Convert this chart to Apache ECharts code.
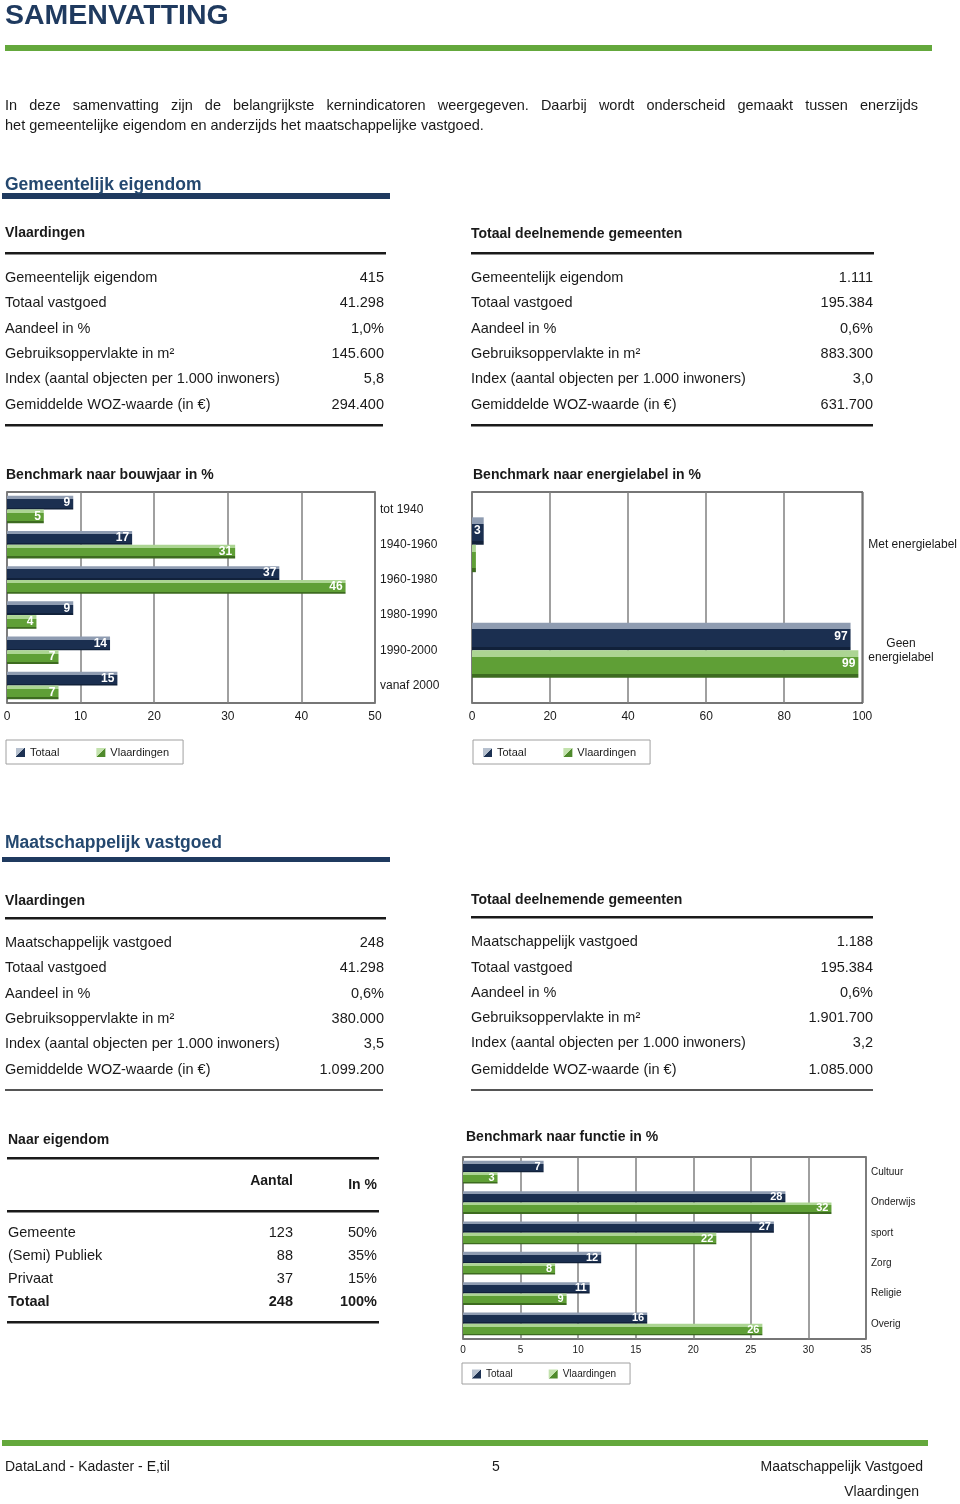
<!DOCTYPE html>
<html><head><meta charset="utf-8">
<script src="https://cdn.jsdelivr.net/npm/echarts@6/dist/echarts.min.js"></script>
<style>html,body{margin:0;padding:0;background:#fff}#c{width:960px;height:1504px}</style>
</head><body><div id="c"></div>
<script>
// ---------- DATA ----------
const pageTitle = 'SAMENVATTING';
const introLine1 = 'In deze samenvatting zijn de belangrijkste kernindicatoren weergegeven. Daarbij wordt onderscheid gemaakt tussen enerzijds';
const introLine2 = 'het gemeentelijke eigendom en anderzijds het maatschappelijke vastgoed.';

const geLabels = ['Gemeentelijk eigendom','Totaal vastgoed','Aandeel in %','Gebruiksoppervlakte in m²','Index (aantal objecten per 1.000 inwoners)','Gemiddelde WOZ-waarde (in €)'];
const geVlaardingen = ['415','41.298','1,0%','145.600','5,8','294.400'];
const geTotaal = ['1.111','195.384','0,6%','883.300','3,0','631.700'];

const mvLabels = ['Maatschappelijk vastgoed','Totaal vastgoed','Aandeel in %','Gebruiksoppervlakte in m²','Index (aantal objecten per 1.000 inwoners)','Gemiddelde WOZ-waarde (in €)'];
const mvVlaardingen = ['248','41.298','0,6%','380.000','3,5','1.099.200'];
const mvTotaal = ['1.188','195.384','0,6%','1.901.700','3,2','1.085.000'];

const eigendomCats = ['Gemeente','(Semi) Publiek','Privaat','Totaal'];
const eigendomAantal = ['123','88','37','248'];
const eigendomPct = ['50%','35%','15%','100%'];

const bouwjaarCats = ['tot 1940','1940-1960','1960-1980','1980-1990','1990-2000','vanaf 2000'];
const bouwjaarTotaal = [9,17,37,9,14,15];
const bouwjaarVlaardingen = [5,31,46,4,7,7];
const bouwjaarTicks = [0,10,20,30,40,50];

const energieCats = ['Met energielabel','Geen energielabel'];
const energieTotaal = [3,97];
const energieVlaardingen = [1,99];
const energieTicks = [0,20,40,60,80,100];

const functieCats = ['Cultuur','Onderwijs','sport','Zorg','Religie','Overig'];
const functieTotaal = [7,28,27,12,11,16];
const functieVlaardingen = [3,32,22,8,9,26];
const functieTicks = [0,5,10,15,20,25,30,35];

// ---------- STYLE ----------
const FF = '"Liberation Sans", Arial, sans-serif';
const NAVY = '#1f3a5f';
const GREEN = '#64a83c';
const darkGrad = {type:'linear',x:0,y:0,x2:0,y2:1,colorStops:[
  {offset:0,color:'#8f9cb1'},{offset:0.24,color:'#8f9cb1'},{offset:0.24,color:'#1b2f50'},
  {offset:0.88,color:'#1b2f50'},{offset:0.88,color:'#11213a'},{offset:1,color:'#11213a'}]};
const greenGrad = {type:'linear',x:0,y:0,x2:0,y2:1,colorStops:[
  {offset:0,color:'#acd593'},{offset:0.26,color:'#acd593'},{offset:0.26,color:'#5f9f36'},
  {offset:0.85,color:'#5f9f36'},{offset:0.85,color:'#3d6b20'},{offset:1,color:'#3d6b20'}]};
const darkLeg = {type:'linear',x:0,y:0,x2:1,y2:1,colorStops:[
  {offset:0,color:'#b6c0ce'},{offset:0.5,color:'#b6c0ce'},{offset:0.5,color:'#1d3253'},{offset:1,color:'#1d3253'}]};
const greenLeg = {type:'linear',x:0,y:0,x2:1,y2:1,colorStops:[
  {offset:0,color:'#c3e2ad'},{offset:0.5,color:'#c3e2ad'},{offset:0.5,color:'#4f8a2c'},{offset:1,color:'#4f8a2c'}]};

// ---------- GRAPHIC HELPERS ----------
function font(size, weight){ return (weight||'normal') + ' ' + size + 'px ' + FF; }
function txt(x, y, text, o){
  o = o || {};
  return {type:'text', silent:true, z:10, style:{x:x, y:y, text:text, font:font(o.size||14.5, o.weight),
    fill:o.color||'#1a1a1a', align:o.align||'left', verticalAlign:'middle'}};
}
function bar(x, y, w, h, color){
  return {type:'rect', silent:true, z:5, shape:{x:x,y:y,width:w,height:h}, style:{fill:color}};
}
const G = [];

// title
G.push(txt(5, 16, pageTitle, {size:28.5, weight:'bold', color:NAVY}));
G.push(bar(5, 45, 927, 6, GREEN));

// justified intro line
(function(){
  const cv = document.createElement('canvas').getContext('2d');
  cv.font = font(14.5);
  const words = introLine1.split(' ');
  const left = 5, right = 918;
  const total = words.reduce((s,w)=>s+cv.measureText(w).width,0);
  const gap = (right-left-total)/(words.length-1);
  let x = left;
  words.forEach(w=>{ G.push(txt(x, 106, w)); x += cv.measureText(w).width + gap; });
})();
G.push(txt(5, 126, introLine2));

// section 1
G.push(txt(5, 185, 'Gemeentelijk eigendom', {size:17.5, weight:'bold', color:'#24486f'}));
G.push(bar(2, 193, 388, 6, NAVY));
G.push(txt(5, 233, 'Vlaardingen', {size:14, weight:'bold'}));
G.push(bar(5, 252, 381, 2.5, '#1a1a1a'));
G.push(txt(471, 234, 'Totaal deelnemende gemeenten', {size:14, weight:'bold'}));
G.push(bar(471, 252, 403, 2.5, '#1a1a1a'));
const rowY1 = [278,303,329,354,379,405];
geLabels.forEach((l,i)=>{
  G.push(txt(5, rowY1[i], l));
  G.push(txt(384, rowY1[i], geVlaardingen[i], {align:'right'}));
  G.push(txt(471, rowY1[i], l));
  G.push(txt(873, rowY1[i], geTotaal[i], {align:'right'}));
});
G.push(bar(5, 424, 378, 2.5, '#1a1a1a'));
G.push(bar(471, 424, 402, 2.5, '#1a1a1a'));

G.push(txt(6, 475, 'Benchmark naar bouwjaar in %', {size:14, weight:'bold'}));
G.push(txt(473, 475, 'Benchmark naar energielabel in %', {size:14, weight:'bold'}));

// section 2
G.push(txt(5, 843, 'Maatschappelijk vastgoed', {size:17.5, weight:'bold', color:'#24486f'}));
G.push(bar(2, 857, 388, 5, NAVY));
G.push(txt(5, 901, 'Vlaardingen', {size:14, weight:'bold'}));
G.push(bar(5, 917, 381, 2.5, '#1a1a1a'));
G.push(txt(471, 900, 'Totaal deelnemende gemeenten', {size:14, weight:'bold'}));
G.push(bar(471, 916, 402, 2.5, '#1a1a1a'));
const rowY2L = [943,968,994,1019,1044,1070];
const rowY2R = [942,968,993,1018,1043,1070];
mvLabels.forEach((l,i)=>{
  G.push(txt(5, rowY2L[i], l));
  G.push(txt(384, rowY2L[i], mvVlaardingen[i], {align:'right'}));
  G.push(txt(471, rowY2R[i], l));
  G.push(txt(873, rowY2R[i], mvTotaal[i], {align:'right'}));
});
G.push(bar(5, 1089, 378, 2, '#555'));
G.push(bar(471, 1089, 402, 2, '#555'));

// naar eigendom table
G.push(txt(8, 1140, 'Naar eigendom', {size:14, weight:'bold'}));
G.push(bar(7, 1157, 372, 2.5, '#1a1a1a'));
G.push(txt(293, 1181, 'Aantal', {size:14, weight:'bold', align:'right'}));
G.push(txt(377, 1185, 'In %', {size:14, weight:'bold', align:'right'}));
G.push(bar(7, 1210, 372, 2.5, '#1a1a1a'));
const rowY3 = [1233,1256,1279,1302];
eigendomCats.forEach((c,i)=>{
  const w = i===eigendomCats.length-1 ? 'bold' : 'normal';
  G.push(txt(8, rowY3[i], c, {weight:w}));
  G.push(txt(293, rowY3[i], eigendomAantal[i], {weight:w, align:'right'}));
  G.push(txt(377, rowY3[i], eigendomPct[i], {weight:w, align:'right'}));
});
G.push(bar(7, 1321, 372, 2.5, '#1a1a1a'));
G.push(txt(466, 1137, 'Benchmark naar functie in %', {size:14, weight:'bold'}));

// footer
G.push(bar(2, 1440, 926, 6, GREEN));
G.push(txt(5, 1467, 'DataLand - Kadaster - E,til', {size:14}));
G.push(txt(492, 1467, '5', {size:14}));
G.push(txt(923, 1467, 'Maatschappelijk Vastgoed', {size:14, align:'right'}));
G.push(txt(919, 1492, 'Vlaardingen', {size:14, align:'right'}));

// ---------- CHARTS ----------
const grids = [
  {left:7, top:492, width:368, height:211},
  {left:472, top:492, width:393, height:211},
  {left:463, top:1157, width:403, height:182}
];
const axisCommon = (ticks, fs, margin) => ({
  type:'value', min:ticks[0], max:ticks[ticks.length-1], interval:ticks[1]-ticks[0],
  axisLine:{show:false}, axisTick:{show:false},
  axisLabel:{fontFamily:FF, fontSize:fs, color:'#1a1a1a', margin:margin},
  splitLine:{show:true, lineStyle:{color:'#808080', width:1.5}}
});
const xAxes = [
  Object.assign({gridIndex:0}, axisCommon(bouwjaarTicks, 12, 8)),
  Object.assign({gridIndex:1}, axisCommon(energieTicks, 12, 8)),
  Object.assign({gridIndex:2}, axisCommon(functieTicks, 10, 6))
];
const catAxis = (gi, cats, fs, extra) => Object.assign({
  gridIndex:gi, type:'category', data:cats, inverse:true, position:'right',
  axisLine:{show:false}, axisTick:{show:false}, splitLine:{show:false},
  axisLabel:{fontFamily:FF, fontSize:fs, color:'#1a1a1a', margin:5}
}, extra||{});
const yAxes = [
  catAxis(0, bouwjaarCats, 12),
  catAxis(1, energieCats, 12, {axisLabel:{fontFamily:FF, fontSize:12, color:'#1a1a1a', margin:6, lineHeight:14,
    formatter:function(v){ const p=v.split(' '); return (v.indexOf('Geen')===0) ? '{c|'+p[0]+'}\n{c|'+p[1]+'}' : '{l|'+v+'}'; },
    rich:{c:{align:'center', fontFamily:FF, fontSize:12, color:'#1a1a1a', lineHeight:14}, l:{fontFamily:FF, fontSize:12, color:'#1a1a1a'}}}}),
  catAxis(2, functieCats, 10)
];
function mkSeries(name, data, gi, grad, fs, gap){
  return {name:name, type:'bar', xAxisIndex:gi, yAxisIndex:gi, data:data, barGap:'0%', barCategoryGap:gap,
    itemStyle:{color:grad}, emphasis:{disabled:true},
    label:{show:true, position:'insideRight', distance:3, color:'#fff', fontWeight:'bold', fontFamily:FF, fontSize:fs,
      formatter:function(p){ return p.value >= 2 ? String(p.value) : ''; }}};
}
const series = [
  mkSeries('Totaal', bouwjaarTotaal, 0, darkGrad, 12, '22%'),
  mkSeries('Vlaardingen', bouwjaarVlaardingen, 0, greenGrad, 12, '22%'),
  mkSeries('Totaal', energieTotaal, 1, darkGrad, 12, '48%'),
  mkSeries('Vlaardingen', energieVlaardingen, 1, greenGrad, 12, '48%'),
  mkSeries('Totaal', functieTotaal, 2, darkGrad, 11, '25%'),
  mkSeries('Vlaardingen', functieVlaardingen, 2, greenGrad, 11, '25%')
];
const mkLegend = (left, top, fs, gap, pad) => ({
  left:left, top:top, orient:'horizontal', icon:'rect', itemWidth:9, itemHeight:9, itemGap:gap,
  padding:pad, borderColor:'#a0a0a0', borderWidth:1, selectedMode:false,
  textStyle:{fontFamily:FF, fontSize:fs, color:'#1a1a1a'},
  data:[{name:'Totaal', itemStyle:{color:darkLeg}}, {name:'Vlaardingen', itemStyle:{color:greenLeg}}]
});

const chart = echarts.init(document.getElementById('c'), null, {renderer:'canvas'});
chart.setOption({
  animation:false,
  backgroundColor:'#fff',
  grid: grids.map(g=>Object.assign({show:true, borderColor:'#4a4a4a', borderWidth:1.5, containLabel:false}, g)),
  xAxis: xAxes,
  yAxis: yAxes,
  series: series,
  legend: [mkLegend(6, 740, 11, 37, [7,14,6,10]), mkLegend(473, 740, 11, 37, [7,14,6,10]), mkLegend(462, 1363, 10, 36, [6,14,5,10])],
  graphic: G
});
</script></body></html>
